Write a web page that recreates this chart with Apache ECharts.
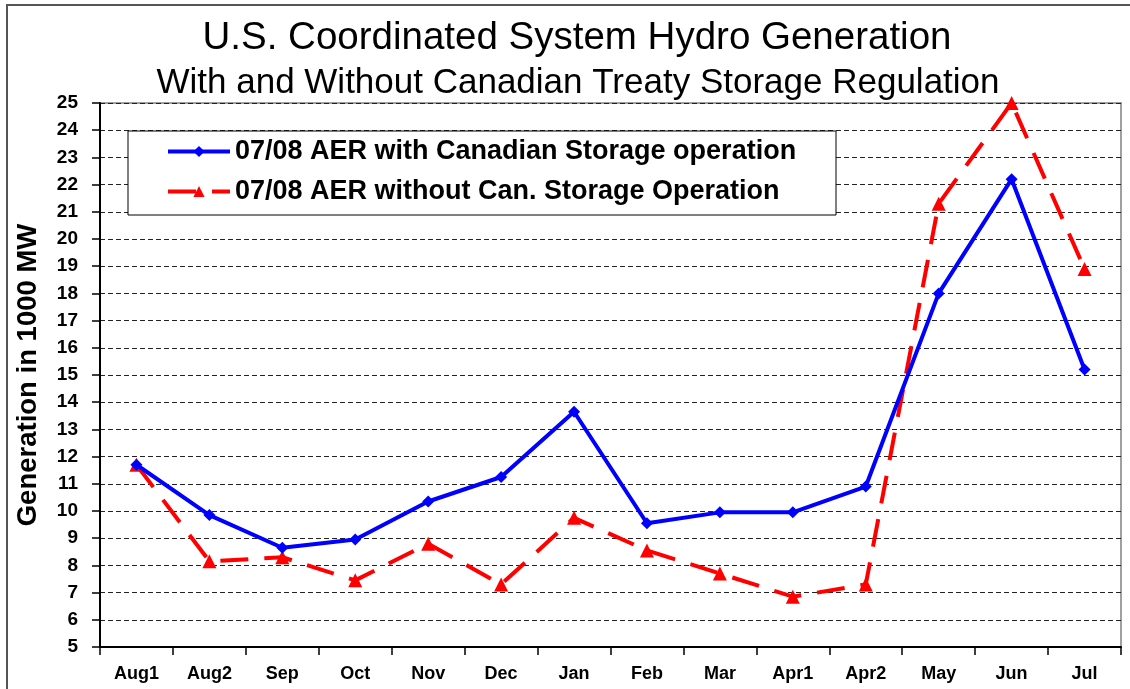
<!DOCTYPE html>
<html>
<head>
<meta charset="utf-8">
<script src="https://cdn.jsdelivr.net/npm/echarts@6/dist/echarts.min.js"></script>
<style>
  html, body { margin: 0; padding: 0; background: #fff; }
  #chart { width: 1130px; height: 689px; }
</style>
</head>
<body>
<div id="chart"></div>
<script>
// periods on the x axis
const months = ['Aug1', 'Aug2', 'Sep', 'Oct', 'Nov', 'Dec', 'Jan', 'Feb', 'Mar', 'Apr1', 'Apr2', 'May', 'Jun', 'Jul'];
// generation in 1000 MW
const withStorage = [11.7, 9.85, 8.65, 8.95, 10.35, 11.25, 13.65, 9.55, 9.95, 9.95, 10.9, 18.0, 22.2, 15.2];
const withoutStorage = [11.7, 8.15, 8.3, 7.45, 8.8, 7.3, 9.75, 8.55, 7.7, 6.85, 7.3, 21.3, 25.0, 18.9];
const seriesNames = ['07/08 AER with Canadian Storage operation', '07/08 AER without Can. Storage Operation'];

const font = 'Liberation Sans, Arial, sans-serif';

const chart = echarts.init(document.getElementById('chart'));

const option = {
  backgroundColor: '#fff',
  textStyle: { fontFamily: font, color: '#000' },
  title: [
    {
      text: 'U.S. Coordinated System Hydro Generation',
      left: 577,
      top: 19,
      padding: 0,
      textAlign: 'center',
      textStyle: { fontFamily: font, fontSize: 38.5, fontWeight: 'normal', color: '#000' }
    },
    {
      text: 'With and Without Canadian Treaty Storage Regulation',
      left: 578,
      top: 66,
      padding: 0,
      textAlign: 'center',
      textStyle: { fontFamily: font, fontSize: 35, fontWeight: 'normal', color: '#000' }
    }
  ],
  graphic: [
    {
      type: 'rect',
      z: 3,
      shape: { x: 128, y: 131, width: 708, height: 84 },
      style: { fill: '#fff', stroke: '#000', lineWidth: 1 }
    },
    {
      type: 'polyline',
      z: 10,
      shape: { points: [[7, 689], [7, 5], [1130, 5]] },
      style: { fill: null, stroke: '#555', lineWidth: 2 }
    }
  ],
  legend: {
    orient: 'vertical',
    left: 166,
    top: 138,
    padding: 0,
    itemWidth: 62,
    itemHeight: 14,
    itemGap: 13,
    lineStyle: { width: 4 },
    textStyle: { fontFamily: font, fontSize: 27, fontWeight: 'bold', color: '#000' },
    data: seriesNames
  },
  grid: {
    left: 100,
    right: 9,
    top: 103,
    bottom: 42,
    show: true,
    borderColor: '#a0a0a0',
    borderWidth: 2
  },
  xAxis: {
    type: 'category',
    data: months,
    boundaryGap: true,
    axisLine: { lineStyle: { color: '#000', width: 2 } },
    axisTick: { show: true, length: 8, lineStyle: { color: '#000', width: 1.5 } },
    axisLabel: { margin: 18, fontSize: 18, fontWeight: 'bold', color: '#000', fontFamily: font },
    splitLine: { show: false }
  },
  yAxis: {
    type: 'value',
    min: 5,
    max: 25,
    interval: 1,
    name: 'Generation in 1000 MW',
    nameLocation: 'middle',
    nameGap: 58,
    nameTextStyle: { fontFamily: font, fontSize: 27.5, fontWeight: 'bold', color: '#000' },
    axisLine: { show: true, lineStyle: { color: '#000', width: 2 } },
    axisTick: { show: true, length: 8, lineStyle: { color: '#000', width: 1.5 } },
    axisLabel: { margin: 22, fontSize: 19, fontWeight: 'bold', color: '#000', fontFamily: font },
    splitLine: { show: true, lineStyle: { color: '#222', width: 1, type: [5, 3] } }
  },
  series: [
    {
      name: seriesNames[0],
      type: 'line',
      data: withStorage,
      symbol: 'diamond',
      symbolSize: 12,
      itemStyle: { color: '#0000ff' },
      lineStyle: { color: '#0000ff', width: 4 },
      z: 3
    },
    {
      name: seriesNames[1],
      type: 'line',
      data: withoutStorage,
      symbol: 'triangle',
      symbolSize: 14,
      itemStyle: { color: '#ff0000' },
      lineStyle: { color: '#ff0000', width: 4, type: [28, 16] },
      z: 2
    }
  ],
  animation: false
};

chart.setOption(option);
</script>
</body>
</html>
